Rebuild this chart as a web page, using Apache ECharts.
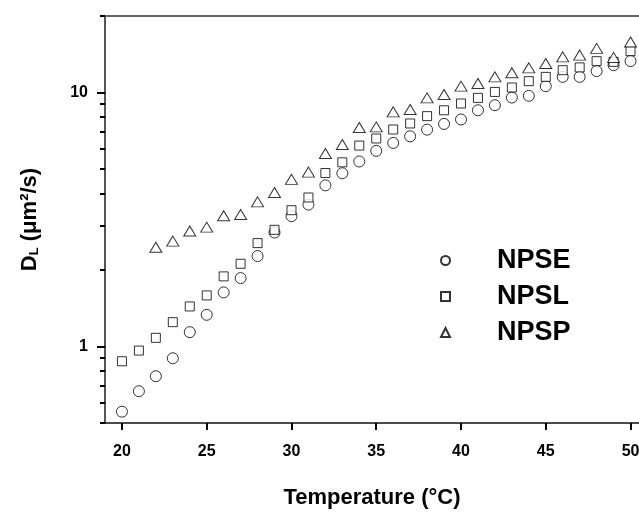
<!DOCTYPE html>
<html>
<head>
<meta charset="utf-8">
<script src="https://cdn.jsdelivr.net/npm/echarts@6/dist/echarts.min.js"></script>
<style>
html,body{margin:0;padding:0;background:#fff;}
#chart{width:639px;height:513px;}
</style>
</head>
<body>
<div id="chart"></div>
<script>
// ---- data ----
var temps = [20,21,22,23,24,25,26,27,28,29,30,31,32,33,34,35,36,37,38,39,40,41,42,43,44,45,46,47,48,49,50];
var npse = [0.554,0.667,0.764,0.899,1.139,1.333,1.633,1.859,2.27,2.81,3.26,3.62,4.31,4.81,5.35,5.89,6.33,6.72,7.14,7.52,7.83,8.51,8.91,9.55,9.70,10.59,11.52,11.52,12.14,12.81,13.29];
var npsl = [0.875,0.964,1.082,1.247,1.438,1.589,1.888,2.117,2.553,2.88,3.44,3.86,4.82,5.31,6.18,6.59,7.15,7.55,8.07,8.51,9.05,9.52,10.05,10.46,11.08,11.52,12.24,12.55,13.28,13.20,14.55];
var npspTemps = [22,23,24,25,26,27,28,29,30,31,32,33,34,35,36,37,38,39,40,41,42,43,44,45,46,47,48,49,50];
var npsp = [2.46,2.60,2.85,2.95,3.27,3.31,3.71,4.04,4.55,4.86,5.75,6.24,7.28,7.32,8.39,8.57,9.52,9.82,10.59,10.85,11.52,11.95,12.50,13.01,13.81,14.03,14.91,13.74,15.80];
var seriesNames = ['NPSE','NPSL','NPSP'];
var xTicks = [20,25,30,35,40,45,50];
var yMajorTicks = [1,10];
var yMinorTicks = [0.5,0.6,0.7,0.8,0.9,2,3,4,5,6,7,8,9,20];

function pairs(xs, ys){ return xs.map(function(x,i){ return [x, ys[i]]; }); }

var FONT = 'Liberation Sans, Arial, Helvetica, sans-serif';
var markerStyle = {color:'#ffffff', borderColor:'#000000', borderWidth:1};

var chart = echarts.init(document.getElementById('chart'), null, {renderer:'canvas'});
chart.setOption({
  animation:false,
  backgroundColor:'#ffffff',
  grid:{left:105, right:0, top:16, bottom:90, show:false, containLabel:false, outerBoundsMode:'none'},
  legend:{
    orient:'vertical', left:435, top:242, itemWidth:9, itemHeight:9, itemGap:9,
    data:seriesNames,
    textStyle:{fontFamily:FONT, fontWeight:'bold', fontSize:27, lineHeight:26, color:'#000', padding:[0,0,0,42]}
  },
  xAxis:[{
    type:'value', min:19, max:50.5,
    name:'Temperature (\u00b0C)', nameLocation:'middle', nameGap:64,
    nameTextStyle:{fontFamily:FONT, fontWeight:'bold', fontSize:22, color:'#000'},
    axisLine:{show:true, onZero:false, lineStyle:{color:'#111', width:1.5}},
    axisTick:{show:true, inside:false, length:7, lineStyle:{color:'#000', width:2}, customValues:xTicks},
    axisLabel:{fontFamily:FONT, fontWeight:'bold', fontSize:16, color:'#000', margin:21, customValues:xTicks},
    splitLine:{show:false}
  },{
    type:'value', min:19, max:50.5, position:'top',
    axisLine:{show:true, onZero:false, lineStyle:{color:'#666', width:2}},
    axisTick:{show:false}, axisLabel:{show:false}, splitLine:{show:false}
  }],
  yAxis:[{
    type:'log', logBase:10, min:0.5, max:20,
    name:'D{sub|L} (\u03bcm\u00b2/s)', nameLocation:'middle', nameGap:64, nameRotate:90,
    nameTextStyle:{fontFamily:FONT, fontWeight:'bold', fontSize:22, color:'#000',
      rich:{
        sub:{fontFamily:FONT, fontWeight:'bold', fontSize:13, color:'#000', verticalAlign:'bottom'}
      }},
    axisLine:{show:true, onZero:false, lineStyle:{color:'#555', width:2}},
    axisTick:{show:true, inside:false, length:8, lineStyle:{color:'#000', width:2}, customValues:yMajorTicks},
    axisLabel:{fontFamily:FONT, fontWeight:'bold', fontSize:16, color:'#000', margin:17, customValues:yMajorTicks},
    splitLine:{show:false}, minorTick:{show:false}
  },{
    type:'log', logBase:10, min:0.5, max:20, position:'left', offset:0,
    axisLine:{show:false},
    axisTick:{show:true, inside:false, length:5, lineStyle:{color:'#000', width:2}, customValues:yMinorTicks},
    axisLabel:{show:false},
    splitLine:{show:false}
  }],
  series:[
    {name:'NPSE', type:'scatter', symbol:'circle', symbolSize:11, itemStyle:markerStyle, data:pairs(temps,npse)},
    {name:'NPSL', type:'scatter', symbol:'rect', symbolSize:9, itemStyle:markerStyle, data:pairs(temps,npsl)},
    {name:'NPSP', type:'scatter', symbol:'triangle', symbolSize:[12,10], itemStyle:markerStyle, data:pairs(npspTemps,npsp)}
  ]
});
</script>
</body>
</html>
